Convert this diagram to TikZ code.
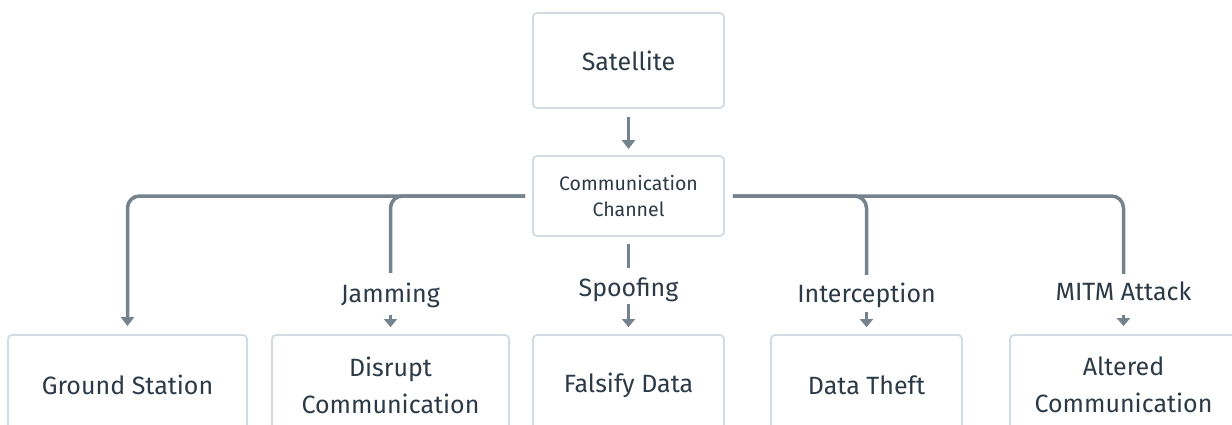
\documentclass[tikz,border=0pt]{standalone}
\usepackage{fontspec}
\setmainfont{Fira Sans}
\usetikzlibrary{arrows.meta}
\definecolor{boxc}{HTML}{D3DBE2}
\definecolor{arr}{HTML}{75838F}
\definecolor{txt}{HTML}{2C3A47}
\begin{document}
\begin{tikzpicture}[x=1pt,y=-1pt,
  box/.style={draw=boxc, line width=1.8pt, rounded corners=4pt, align=center, text=txt, inner sep=0pt,
    font=\fontsize{25}{37}\selectfont},
  lbl/.style={text=txt, inner sep=0pt, anchor=base, text height=16pt, text depth=5pt,
    font=\fontsize{25}{30}\selectfont},
  conn/.style={draw=arr, line width=3.5pt, rounded corners=12pt},
  small/.style={draw=arr, line width=3pt, -{Triangle[width=13pt,length=8pt]}},
  big/.style={draw=arr, line width=3.5pt, rounded corners=12pt, -{Triangle[width=13pt,length=9pt]}}
]
\useasboundingbox (0,0) rectangle (1232,425);
\clip (0,0) rectangle (1232,425);
\fill[white] (0,0) rectangle (1232,425);

\node[box, minimum width=191pt, minimum height=95pt] (sat) at (628.5,60.5) {Satellite};
\node[box, minimum width=191pt, minimum height=80pt, font=\fontsize{19.5}{26}\selectfont] (chan) at (628.5,196) {Communication\\Channel};

\node[box, minimum width=239pt, minimum height=100pt] (gs) at (127.5,385) {Ground Station};
\node[box, minimum width=237pt, minimum height=100pt] (dis) at (390.5,385) {Disrupt\\Communication};
\node[box, minimum width=191pt, minimum height=100pt] (fal) at (628.5,385) {Falsify Data};
\node[box, minimum width=191pt, minimum height=100pt] (dth) at (866.5,385) {Data Theft};
\node[box, minimum width=227pt, minimum height=100pt] (alt) at (1123.5,385) {Altered\\Communication};

\node[lbl] (jam) at (390.5,302) {Jamming};
\node[lbl] (spo) at (628.5,296) {Spoofing};
\node[lbl] (int) at (866.5,302) {Interception};
\node[lbl] (mitm) at (1123.5,300) {MITM Attack};

\draw[big, shorten <=8pt, shorten >=6pt] (sat) -- (chan);

\draw[big, shorten <=7pt, shorten >=8pt] (chan.west) -- (gs.north |- chan.west) -- (gs.north);
\draw[conn, shorten <=7pt, shorten >=13pt] (chan.west) -- (jam.north |- chan.west) -- (jam.north);
\draw[conn, shorten <=7pt, shorten >=12pt] (chan.south) -- (spo.north);
\draw[conn, shorten <=8pt, shorten >=11pt] (chan.east) -- (int.north |- chan.east) -- (int.north);
\draw[conn, shorten <=8pt, shorten >=10pt] (chan.east) -- (mitm.north |- chan.east) -- (mitm.north);

\draw[small, shorten <=8pt, shorten >=7pt] (jam.south) -- (dis.north);
\draw[small, shorten <=3pt, shorten >=7pt] (spo.south) -- (fal.north);
\draw[small, shorten <=5pt, shorten >=7pt] (int.south) -- (dth.north);
\draw[small, shorten <=10pt, shorten >=8pt] (mitm.south) -- (alt.north);
\end{tikzpicture}
\end{document}
